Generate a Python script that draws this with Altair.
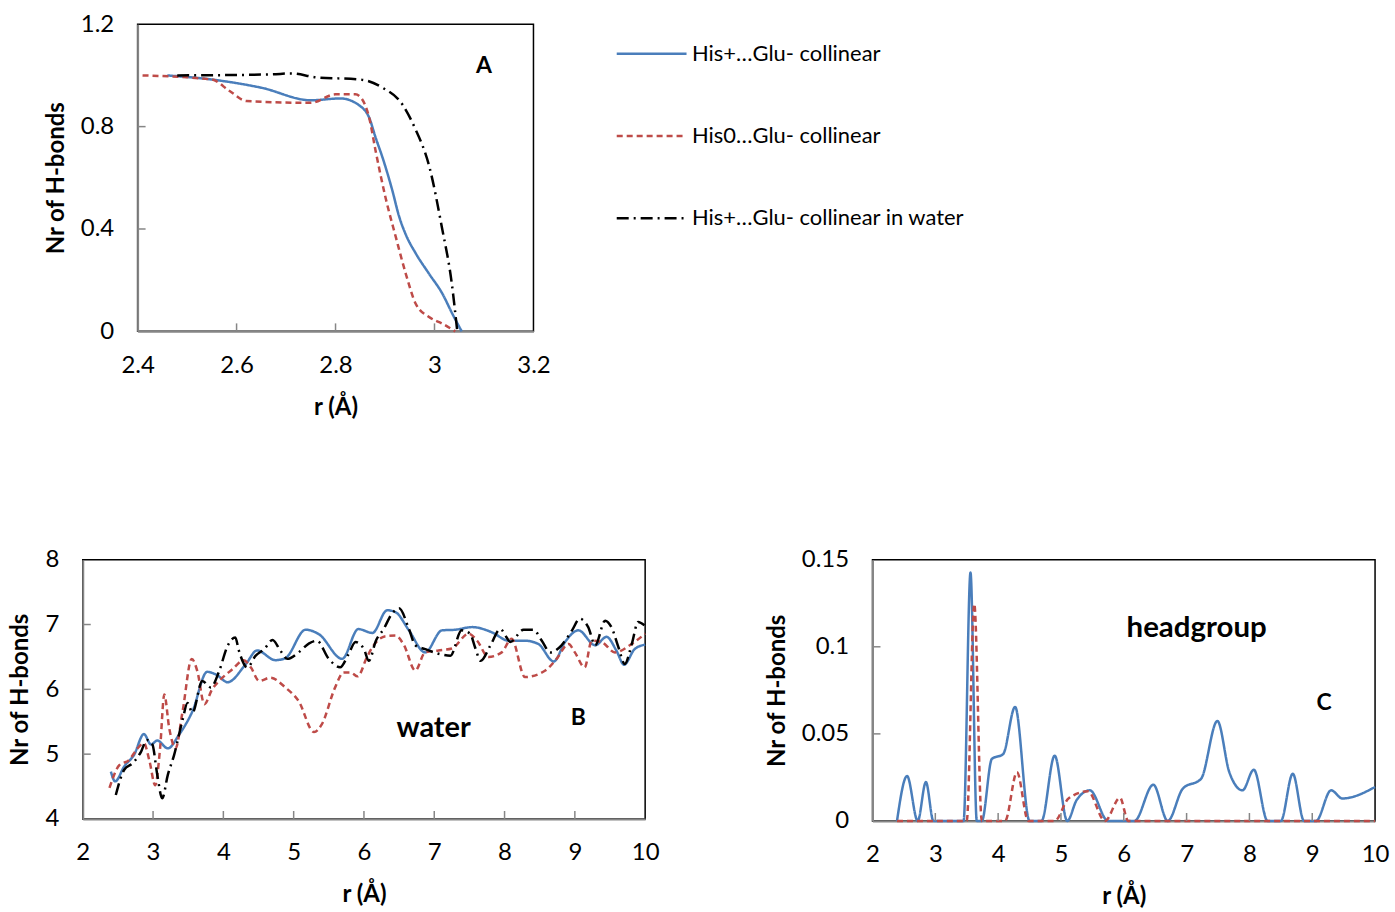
import altair as alt
import pandas as pd

FONT = "Lato"
names = ["His+…Glu- collinear", "His0…Glu- collinear", "His+…Glu- collinear in water"]
colors = ["#4A7EBB", "#BE4B48", "#000000"]
dashes = [[1, 0], [6, 4], [12, 5, 2, 5]]

# ---------- Panel A ----------
A_r_blue = [2.46, 2.55, 2.65, 2.75, 2.81, 2.85, 2.868, 2.881, 2.895, 2.915, 2.928, 2.942, 2.962,
            2.989, 3.016, 3.036, 3.055]
A_v_blue = [1.0, 0.984, 0.952, 0.903, 0.91, 0.88, 0.835, 0.757, 0.679, 0.549, 0.452, 0.378, 0.305,
            0.225, 0.147, 0.069, 0.0]
A_r_red = [2.41, 2.55, 2.586, 2.62, 2.75, 2.80, 2.84, 2.854, 2.868, 2.881, 2.901, 2.922, 2.942,
           2.962, 2.989, 3.016, 3.042]
A_v_red = [1.0, 0.984, 0.939, 0.90, 0.893, 0.926, 0.926, 0.906, 0.835, 0.705, 0.523, 0.367, 0.225,
           0.108, 0.056, 0.03, 0.0]
A_r_black = [2.48, 2.67, 2.71, 2.76, 2.85, 2.895, 2.935, 2.96, 2.99, 3.015, 3.035, 3.046]
A_v_black = [1.0, 1.004, 1.008, 0.993, 0.984, 0.952, 0.887, 0.796, 0.64, 0.406, 0.186, 0.0]
A_xticks = [2.4, 2.6, 2.8, 3.0, 3.2]
A_yticks = [0, 0.4, 0.8, 1.2]

# ---------- Panel B ----------
B_r_blue = [2.40, 2.46, 2.59, 2.73, 2.87, 2.97, 3.06, 3.21, 3.37, 3.56, 3.77, 3.91, 4.06, 4.32,
            4.48, 4.74, 4.88, 5.17, 5.36, 5.69, 5.92, 6.12, 6.33, 6.45, 6.64, 6.87, 7.11, 7.30,
            7.54, 7.82, 8.06, 8.29, 8.48, 8.70, 8.86, 9.05, 9.29, 9.45, 9.59, 9.70, 9.85, 10.0]
B_v_blue = [4.73, 4.58, 4.81, 4.99, 5.31, 5.15, 5.21, 5.09, 5.30, 5.66, 6.27, 6.22, 6.11, 6.39,
            6.60, 6.45, 6.48, 6.92, 6.85, 6.47, 6.93, 6.87, 7.22, 7.19, 6.91, 6.57, 6.91, 6.92,
            6.96, 6.88, 6.75, 6.75, 6.70, 6.43, 6.73, 6.91, 6.68, 6.81, 6.60, 6.38, 6.62, 6.69]
B_r_red = [2.38, 2.52, 2.66, 2.78, 2.87, 2.95, 3.03, 3.10, 3.16, 3.23, 3.32, 3.42, 3.55, 3.63,
           3.73, 3.84, 3.94, 4.13, 4.29, 4.39, 4.51, 4.67, 4.88, 5.07, 5.29, 5.40, 5.59, 5.71,
           5.81, 5.91, 6.04, 6.12, 6.31, 6.45, 6.57, 6.73, 6.87, 7.06, 7.25, 7.49, 7.61, 7.77,
           7.96, 8.10, 8.29, 8.58, 8.74, 8.91, 9.00, 9.14, 9.24, 9.38, 9.57, 9.81, 10.0]
B_v_red = [4.48, 4.83, 4.91, 5.09, 5.17, 4.89, 4.52, 5.09, 5.92, 5.40, 5.09, 5.66, 6.47, 6.28,
           5.77, 6.00, 6.13, 6.31, 6.45, 6.34, 6.13, 6.18, 6.03, 5.82, 5.34, 5.46, 6.03, 6.26,
           6.26, 6.20, 6.49, 6.65, 6.82, 6.83, 6.68, 6.29, 6.57, 6.60, 6.63, 6.86, 6.75, 6.50,
           6.57, 6.78, 6.19, 6.29, 6.47, 6.70, 6.57, 6.34, 6.75, 6.73, 6.57, 6.70, 6.86]
B_r_black = [2.47, 2.59, 2.71, 2.83, 2.91, 2.99, 3.06, 3.13, 3.21, 3.30, 3.42, 3.49, 3.56, 3.70,
             3.82, 3.94, 4.06, 4.17, 4.22, 4.34, 4.46, 4.58, 4.70, 4.81, 4.91, 5.07, 5.22, 5.33,
             5.50, 5.66, 5.78, 5.88, 6.00, 6.07, 6.17, 6.28, 6.40, 6.50, 6.64, 6.73, 6.87, 7.06,
             7.23, 7.39, 7.51, 7.58, 7.66, 7.80, 7.94, 8.03, 8.08, 8.27, 8.41, 8.53, 8.65, 8.81,
             8.96, 9.07, 9.19, 9.29, 9.43, 9.52, 9.62, 9.71, 9.81, 9.90, 9.99]
B_v_black = [4.37, 4.76, 4.86, 5.04, 5.22, 5.15, 4.68, 4.32, 4.68, 4.99, 5.53, 5.79, 5.64, 6.13,
             6.03, 6.28, 6.67, 6.80, 6.60, 6.34, 6.52, 6.62, 6.76, 6.60, 6.47, 6.57, 6.71, 6.75,
             6.47, 6.34, 6.54, 6.73, 6.62, 6.44, 6.75, 6.93, 7.17, 7.25, 6.93, 6.68, 6.62, 6.55,
             6.52, 6.91, 6.86, 6.65, 6.44, 6.68, 6.93, 6.80, 6.73, 6.92, 6.92, 6.75, 6.57, 6.68,
             6.91, 7.09, 6.96, 6.68, 7.06, 6.96, 6.65, 6.39, 6.70, 7.04, 6.99]
B_xticks = [2, 3, 4, 5, 6, 7, 8, 9, 10]
B_yticks = [4, 5, 6, 7, 8]

# ---------- Panel C ----------
C_r_blue = [2.39, 2.55, 2.72, 2.85, 2.97, 3.45, 3.56, 3.66, 3.74, 3.90, 4.08, 4.27, 4.50, 4.69,
            4.90, 5.10, 5.25, 5.46, 5.75, 6.17, 6.47, 6.70, 6.94, 7.23, 7.49, 7.68, 7.89, 8.07,
            8.29, 8.50, 8.69, 8.87, 9.06, 9.30, 9.48, 10.0]
C_v_blue = [0, 0.0258, 0, 0.0223, 0, 0, 0.1426, 0, 0, 0.0356, 0.0384, 0.0655, 0, 0,
            0.0375, 0, 0.012, 0.0176, 0, 0, 0.0208, 0, 0.0186, 0.0242, 0.0574, 0.028, 0.0176, 0.0294,
            0, 0, 0.0271, 0, 0, 0.0176, 0.0129, 0.0195]
C_r_red = [2.39, 3.50, 3.62, 3.74, 4.11, 4.30, 4.48, 4.90, 5.12, 5.43, 5.70, 5.94, 6.07, 10.0]
C_v_red = [0, 0, 0.1246, 0, 0, 0.028, 0, 0, 0.0129, 0.017, 0, 0.0133, 0, 0]
C_xticks = [2, 3, 4, 5, 6, 7, 8, 9, 10]
C_yticks = [0, 0.05, 0.1, 0.15]

# annotations (data coordinates)
A_notes = {"t": ["A"], "r": [3.1], "v": [1.036], "size": [23]}
B_notes = {"t": ["water", "B"], "r": [6.99, 9.05], "v": [5.40, 5.55], "size": [29, 23]}
C_notes = {"t": ["headgroup", "C"], "r": [7.16, 9.19], "v": [0.1108, 0.0676], "size": [29.5, 23]}

AXIS_GRAY = "#868686"
LBL = 24
TTL = 24


def long_df(parts):
    rows = []
    for name, rs, vs in parts:
        for r, v in zip(rs, vs):
            rows.append({"r": r, "v": v, "s": name})
    return pd.DataFrame(rows)


def panel(df, W, H, xdom, ydom, xticks, yticks, notes, legend=None):
    common = dict(tickSize=0, grid=False, domainColor=AXIS_GRAY, domainWidth=2,
                  labelFontSize=LBL, titleFontSize=TTL, titleFontWeight="bold",
                  labelFlush=False, labelFont=FONT, titleFont=FONT,
                  labelColor="black", titleColor="black", labelExpr="'' + datum.value")
    xaxis = alt.Axis(values=xticks, title="r (Å)", labelPadding=22, titlePadding=18, **common)
    yaxis = alt.Axis(values=yticks, title="Nr of H-bonds", labelPadding=24, titlePadding=12, **common)
    xs = alt.Scale(domain=xdom, nice=False, zero=False)
    ys = alt.Scale(domain=ydom, nice=False, zero=False)
    cenc = alt.Color("s:N", scale=alt.Scale(domain=names, range=colors), legend=legend)
    denc = alt.StrokeDash("s:N", scale=alt.Scale(domain=names, range=dashes), legend=legend)
    lines = alt.Chart(df).mark_line(strokeWidth=2.5, interpolate="monotone").encode(
        x=alt.X("r:Q", scale=xs, axis=xaxis),
        y=alt.Y("v:Q", scale=ys, axis=yaxis),
        color=cenc,
        strokeDash=denc,
        order=alt.Order("r:Q"),
    )
    xt = alt.Chart(pd.DataFrame({"r": xticks[1:-1]})).mark_rule(color=AXIS_GRAY, strokeWidth=1.5).encode(
        x=alt.X("r:Q", scale=xs, axis=xaxis), y=alt.value(H), y2=alt.value(H - 8))
    yt = alt.Chart(pd.DataFrame({"v": yticks[1:-1]})).mark_rule(color=AXIS_GRAY, strokeWidth=1.5).encode(
        y=alt.Y("v:Q", scale=ys, axis=yaxis), x=alt.value(0), x2=alt.value(8))
    txt = alt.Chart(pd.DataFrame(notes)).mark_text(fontWeight="bold", font=FONT, color="black").encode(
        x=alt.X("r:Q", scale=xs, axis=xaxis), y=alt.Y("v:Q", scale=ys, axis=yaxis),
        text="t:N", size=alt.Size("size:Q", scale=None, legend=None))
    return alt.layer(lines, xt, yt, txt).properties(
        width=W, height=H, view=alt.ViewBackground(stroke="black", strokeWidth=1.5))


def spacer(w, h):
    return alt.Chart(pd.DataFrame({"r": [0]})).mark_point(opacity=0, size=1).encode(
        x=alt.X("r:Q", axis=None), y=alt.Y("r:Q", axis=None)
    ).properties(width=w, height=h, view=alt.ViewBackground(stroke="transparent"))


dfA = long_df([(names[0], A_r_blue, A_v_blue), (names[1], A_r_red, A_v_red), (names[2], A_r_black, A_v_black)])
dfB = long_df([(names[0], B_r_blue, B_v_blue), (names[1], B_r_red, B_v_red), (names[2], B_r_black, B_v_black)])
dfC = long_df([(names[0], C_r_blue, C_v_blue), (names[1], C_r_red, C_v_red)])

legA = alt.Legend(title=None, orient="none", legendX=479, legendY=-7, symbolType="stroke",
                  symbolSize=4900, symbolStrokeWidth=2.5, labelFontSize=22, labelFont=FONT,
                  labelOffset=4, rowPadding=34.5, padding=0, labelLimit=400, labelColor="black")

A = panel(dfA, 397, 308, [2.4, 3.2], [0, 1.2], A_xticks, A_yticks, A_notes, legend=legA)
B = panel(dfB, 564, 260, [2, 10], [4, 8], B_xticks, B_yticks, B_notes)
C = panel(dfC, 504, 262, [2, 10], [0, 0.15], C_xticks, C_yticks, C_notes)

IND = dict(color="independent", strokeDash="independent")
top = alt.hconcat(spacer(36, 1), A, spacing=0).resolve_scale(**IND)
inner = alt.hconcat(B, C, spacing=104).resolve_scale(**IND)
bottom = alt.hconcat(spacer(1, 1), inner, spacing=0).resolve_scale(**IND)

chart = alt.vconcat(top, bottom, spacing=127).resolve_scale(**IND).properties(
    padding={"left": 5, "top": 10, "right": 5, "bottom": 5},
    background="white",
)

chart.save("out.html", embed_options={"renderer": "svg", "actions": False})
